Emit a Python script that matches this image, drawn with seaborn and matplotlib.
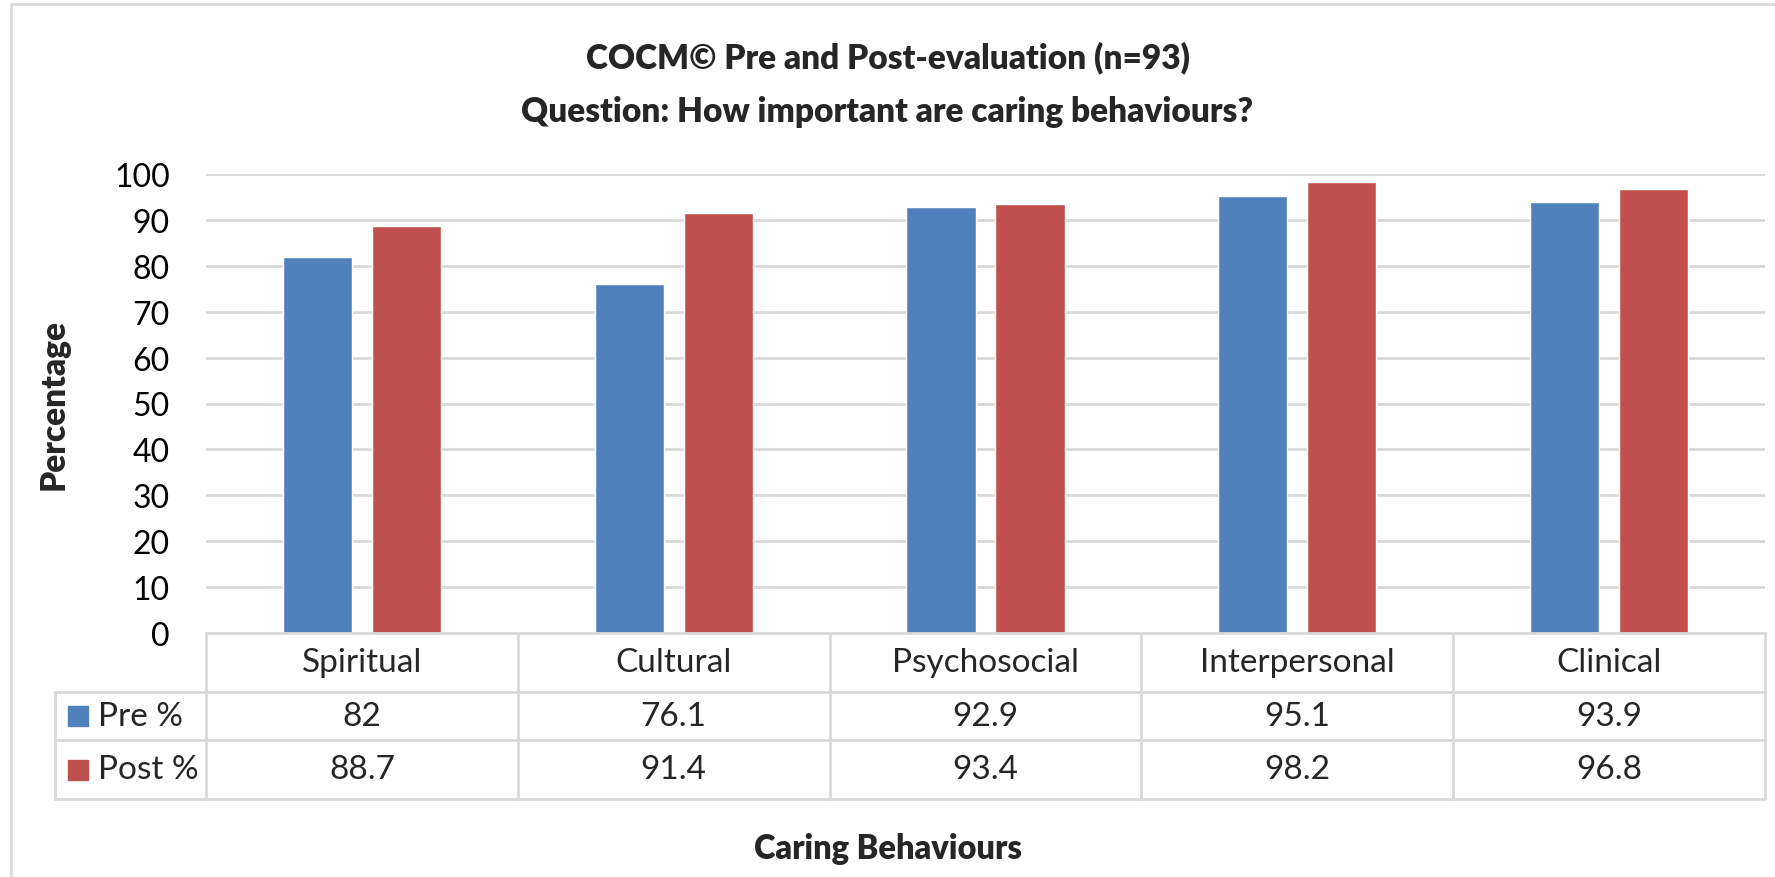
import matplotlib
matplotlib.use('Agg')
import matplotlib.pyplot as plt
import matplotlib.transforms as mtransforms
from matplotlib.lines import Line2D
from matplotlib.patches import Rectangle
import seaborn as sns
import pandas as pd

categories = ['Spiritual', 'Cultural', 'Psychosocial', 'Interpersonal', 'Clinical']
pre = [82, 76.1, 92.9, 95.1, 93.9]
post = [88.7, 91.4, 93.4, 98.2, 96.8]
series = ['Pre %', 'Post %']
pre_labels = ['82', '76.1', '92.9', '95.1', '93.9']
post_labels = ['88.7', '91.4', '93.4', '98.2', '96.8']
yticks = list(range(0, 101, 10))

df = pd.DataFrame({
    'behaviour': categories * 2,
    'value': pre + post,
    'series': [series[0]] * len(pre) + [series[1]] * len(post),
})

W, H = 1775, 878
blue, red = '#4F81BD', '#C0504D'
line_col = '#D9D9D9'

sns.set_style('white')
plt.rcParams['font.family'] = ['Lato', 'DejaVu Sans']


# pixel -> figure fraction helpers
def fx(x):
    return x / W


def fy(y):
    return 1 - y / H


fig = plt.figure(figsize=(W / 100, H / 100), dpi=100)
ax = fig.add_axes([fx(206), fy(634), fx(1765) - fx(206), fy(175) - fy(634)])

sns.barplot(data=df, x='behaviour', y='value', hue='series', order=categories,
            palette=[blue, red], width=0.571, gap=0.224, saturation=1,
            errorbar=None, legend=False, ax=ax)

ax.set_xlim(-0.5, 4.5)
ax.set_ylim(0, 100)
ax.set_yticks(yticks)
ax.set_xticks([])
ax.set_xlabel('')
ax.yaxis.grid(True, color=line_col, lw=2)
ax.set_axisbelow(True)
for s in ax.spines.values():
    s.set_visible(False)
ax.tick_params(axis='y', length=0, pad=26, labelsize=23, labelcolor='black')
ax.set_ylabel('Percentage', fontsize=24, fontweight='heavy')
ax.yaxis.set_label_coords((70 - 206) / (1765 - 206), 0.5)

# title (two lines)
fig.text(0.5, fy(85), 'COCM\u00a9 Pre and Post-evaluation (n=93)\nQuestion: How important are caring behaviours?',
         ha='center', va='center', fontsize=24, fontweight='heavy', linespacing=1.85)

# outer chart border (left and top edges)
fig.add_artist(Line2D([fx(11), fx(11)], [0, fy(5)], color=line_col, lw=2))
fig.add_artist(Line2D([fx(11), 1], [fy(5), fy(5)], color=line_col, lw=2))

# data table under the axis
rows_y = [634, 693, 741, 800]
fig.add_artist(Line2D([fx(206), fx(1765)], [fy(634), fy(634)], color=line_col, lw=2))
for y in rows_y[1:]:
    fig.add_artist(Line2D([fx(55), fx(1765)], [fy(y), fy(y)], color=line_col, lw=2))
fig.add_artist(Line2D([fx(55), fx(55)], [fy(693), fy(800)], color=line_col, lw=2))
blend = mtransforms.blended_transform_factory(ax.transData, fig.transFigure)
for xb in [-0.5, 0.5, 1.5, 2.5, 3.5, 4.5]:
    fig.add_artist(Line2D([xb, xb], [fy(634), fy(800)], color=line_col, lw=2, transform=blend))

for i, cat in enumerate(categories):
    fig.text(i, fy((634 + 693) / 2), cat, transform=blend, ha='center', va='center', fontsize=24)
    fig.text(i, fy((693 + 741) / 2), pre_labels[i], transform=blend, ha='center', va='center', fontsize=24)
    fig.text(i, fy((741 + 800) / 2), post_labels[i], transform=blend, ha='center', va='center', fontsize=24)

for name, col, (y0, y1) in zip(series, [blue, red], [(693, 741), (741, 800)]):
    yc = (y0 + y1) / 2
    fig.add_artist(Rectangle((fx(68), fy(yc + 10)), fx(20), 20 / H, color=col))
    fig.text(fx(98), fy(yc), name, ha='left', va='center', fontsize=24)

fig.text(0.5, fy(849), 'Caring Behaviours', ha='center', va='center', fontsize=23.5, fontweight='heavy')

fig.savefig('out.png', dpi=100)
